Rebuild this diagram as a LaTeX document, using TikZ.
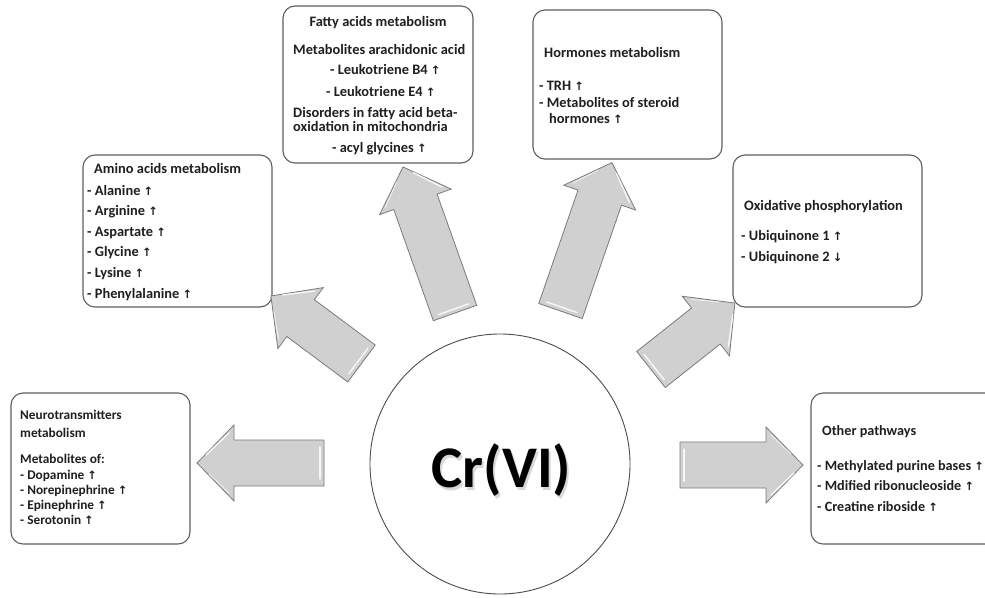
\documentclass[tikz,border=0pt]{standalone}
\usepackage{fontspec}
\setmainfont{Carlito}
\newfontfamily\arrfont{DejaVu Sans}
\newcommand\upar{{\arrfont\fontsize{11.5}{11.5}\selectfont ↑}}
\newcommand\dnar{{\arrfont\fontsize{11.5}{11.5}\selectfont ↓}}
\definecolor{boxline}{HTML}{5E5E5E}
\definecolor{arrfill}{HTML}{D0D0D0}
\definecolor{arrline}{HTML}{7A7A7A}
\begin{document}
\begin{tikzpicture}[x=1pt,y=-1pt,
  box/.style={draw=boxline, line width=1.1pt, rounded corners=12pt, fill=white, inner sep=0pt},
  txt/.style={anchor=base west, inner sep=0pt, font=\fontsize{14.4}{16}\selectfont\bfseries, text=black!88},
  ctxt/.style={txt, anchor=base},
  midtxt/.style={txt, font=\fontsize{14.2}{16}\selectfont\bfseries},
  smalltxt/.style={txt, font=\fontsize{13.3}{15}\selectfont\bfseries},
  pics/barrow/.style={code={
    \path[fill=arrfill, draw=arrline, line width=0.8pt, line join=miter]
      (0,23) -- (#1-37,23) -- (#1-37,38) -- (#1,0) -- (#1-37,-38) -- (#1-37,-23) -- (0,-23) -- cycle;
    \draw[white, line width=1.4pt, opacity=0.85, line cap=round] (4,-16) -- (4,16);
    \draw[white, line width=1.4pt, opacity=0.85, line cap=round] (#1-32,30) -- (#1-9,8);
    \draw[white, line width=1.0pt, opacity=0.6, line cap=round] (#1-32,-30) -- (#1-12,-11);
  }}
]
\useasboundingbox (0,0) rectangle (985,597);
\clip (0,0) rectangle (985,597);

% boxes
\node[box, minimum width=190pt, minimum height=157pt] (fa) at (378,84.5) {};
\node[box, minimum width=189pt, minimum height=149pt] (ho) at (627.5,84.5) {};
\node[box, minimum width=189pt, minimum height=152pt] (am) at (177.5,231) {};
\node[box, minimum width=189pt, minimum height=152pt] (ox) at (827.5,231) {};
\node[box, minimum width=179pt, minimum height=151pt] (ne) at (100.5,468.5) {};
\node[box, minimum width=189pt, minimum height=151pt] (ot) at (905.5,468.5) {};

% centre
\node[draw=black!70, line width=0.9pt, circle, minimum size=260pt, inner sep=0pt] (cr) at (500,464) {};
\node[anchor=base, inner sep=0pt, font=\fontsize{59}{62}\selectfont\bfseries, text=black!22, opacity=0.7] (crs) at (503.5,490) {Cr(VI)};
\node[anchor=base, inner sep=0pt, font=\fontsize{59}{62}\selectfont\bfseries] (crt) at (501.5,487) {Cr(VI)};

% block arrows
\pic[rotate=143.3] (a1) at (361.5,363.5) {barrow=113};
\pic[rotate=109.6] (a2) at (455,313) {barrow=155};
\pic[rotate=70.9] (a3) at (560.5,311) {barrow=157};
\pic[rotate=38.4] (a4) at (651,369.5) {barrow=107};
\pic[rotate=180] (a5) at (324,463) {barrow=127};
\pic[rotate=0] (a6) at (680,465) {barrow=123};

% fatty acids
\node[ctxt] (fa1) at (378,27) {Fatty acids metabolism};
\node[txt] (fa2) at (293,54) {Metabolites arachidonic acid};
\node[txt] (fa3) at (330,74) {- Leukotriene B4 \upar};
\node[txt] (fa4) at (326,96) {- Leukotriene E4 \upar};
\node[txt] (fa5) at (293,117) {Disorders in fatty acid beta-};
\node[txt] (fa6) at (293,131) {oxidation in mitochondria};
\node[txt] (fa7) at (332,152) {- acyl glycines \upar};

% hormones
\node[txt] (ho1) at (544,57) {Hormones metabolism};
\node[txt] (ho2) at (539,90) {- TRH \upar};
\node[txt] (ho3) at (539,107) {- Metabolites of steroid};
\node[txt] (ho4) at (549,123) {hormones \upar};

% amino acids
\node[txt] (am1) at (94,173) {Amino acids metabolism};
\node[txt] (am2) at (87,195) {- Alanine \upar};
\node[txt] (am3) at (87,215) {- Arginine \upar};
\node[txt] (am4) at (87,236) {- Aspartate \upar};
\node[txt] (am5) at (87,256) {- Glycine \upar};
\node[txt] (am6) at (87,277) {- Lysine \upar};
\node[txt] (am7) at (87,298) {- Phenylalanine \upar};

% oxidative
\node[txt] (ox1) at (744,210) {Oxidative phosphorylation};
\node[txt] (ox2) at (741,240) {- Ubiquinone 1 \upar};
\node[txt] (ox3) at (741,261) {- Ubiquinone 2 \dnar};

% neurotransmitters
\node[smalltxt] (ne1) at (20,419) {Neurotransmitters};
\node[smalltxt] (ne2) at (20,437) {metabolism};
\node[smalltxt] (ne3) at (20,463) {Metabolites of:};
\node[smalltxt] (ne4) at (20,479) {- Dopamine \upar};
\node[smalltxt] (ne5) at (20,494) {- Norepinephrine \upar};
\node[smalltxt] (ne6) at (20,509) {- Epinephrine \upar};
\node[smalltxt] (ne7) at (20,524) {- Serotonin \upar};

% other
\node[midtxt] (ot1) at (822,435) {Other pathways};
\node[midtxt] (ot2) at (817,470) {- Methylated purine bases \upar};
\node[midtxt] (ot3) at (817,490) {- Mdified ribonucleoside \upar};
\node[midtxt] (ot4) at (817,511) {- Creatine riboside \upar};
\end{tikzpicture}
\end{document}
